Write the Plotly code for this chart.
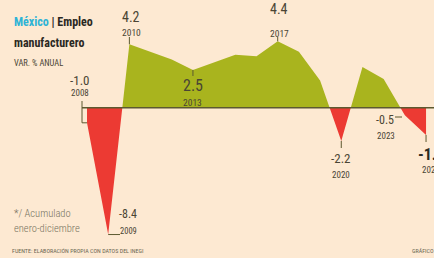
import plotly.graph_objects as go

# ---- data ----
years = list(range(2008, 2025))
values = [-1.0, -8.4, 4.2, 3.7, 3.2, 2.5, 3.0, 3.5, 3.4, 4.4, 3.7, 1.8, -2.2, 2.7, 1.9, -0.5, -1.8]

title_country = "México"
title_rest = "| Empleo"
title_line2 = "manufacturero"
subtitle = "VAR. % ANUAL"
note1 = "*/ Acumulado"
note2 = "enero-diciembre"
source = "FUENTE: ELABORACIÓN PROPIA CON DATOS DEL INEGI"
credit = "GRÁFICO EE"

W, H = 434, 258
BG = "#fde9d2"
GREEN = "#a9b41e"
RED = "#ec3a33"
INK = "#4a4534"
LINE = "#5c5930"

NARROW = "Roboto Condensed, Roboto, sans-serif"

# ---- split series at zero crossings so each sign gets its own fill ----
def split_sign(xs, ys):
    px, py = [xs[0]], [ys[0]]
    for i in range(len(xs) - 1):
        x0, y0, x1, y1 = xs[i], ys[i], xs[i + 1], ys[i + 1]
        if y0 * y1 < 0:
            t = y0 / (y0 - y1)
            px.append(x0 + t * (x1 - x0))
            py.append(0.0)
        px.append(x1)
        py.append(y1)
    return px, py

sx, sy = split_sign(years, values)
pos = [max(v, 0) for v in sy]
neg = [min(v, 0) for v in sy]

fig = go.Figure()
fig.add_trace(go.Scatter(x=sx, y=pos, mode="lines", line=dict(width=0),
                         fill="tozeroy", fillcolor=GREEN, hoverinfo="skip"))
fig.add_trace(go.Scatter(x=sx, y=neg, mode="lines", line=dict(width=0),
                         fill="tozeroy", fillcolor=RED, hoverinfo="skip"))

# axis mapping (pixels -> data)
X0 = 87.0          # pixel of first year
DX = 21.19         # pixels per year
Y0 = 107.7         # pixel of zero line
DY = 15.1          # pixels per unit
xr = [years[0] - X0 / DX, years[0] + (W - X0) / DX]
yr = [-(H - Y0) / DY, Y0 / DY]

def xpx(p):
    return years[0] + (p - X0) / DX

def ypx(p):
    return (Y0 - p) / DY

# zero line
fig.add_shape(type="line", xref="x", yref="y", x0=xpx(82), x1=xr[1], y0=0, y1=0,
              line=dict(color=LINE, width=1.5))

val = dict(zip(years, values))

def leader(x0, y0, x1, y1):
    fig.add_shape(type="line", xref="x", yref="y", x0=x0, y0=y0, x1=x1, y1=y1,
                  line=dict(color=LINE, width=1))

def txt(x, ypix, text, size, bold=False, color=INK, anchor="center", weight=None):
    f = dict(family=NARROW, size=size, color=color)
    if weight:
        f["weight"] = weight
    fig.add_annotation(x=x, y=ypx(ypix), xref="x", yref="y",
                       text=f"<b>{text}</b>" if bold else text,
                       showarrow=False, xanchor=anchor, yanchor="middle", font=f)

# 2008 label with L leader
leader(xpx(82), ypx(101), xpx(82), val[2008])
leader(xpx(82), val[2008], 2008, val[2008])
txt(xpx(80), 80, f"{val[2008]:.1f}", 13)
txt(xpx(80), 93, "2008", 9)

# 2009
leader(2009, val[2009], xpx(120), val[2009])
txt(xpx(128), 214, f"{val[2009]:.1f}", 12)
txt(xpx(128), 231, "2009", 8.5)

# 2010
leader(2010, ypx(37), 2010, val[2010])
txt(xpx(131), 17, f"{val[2010]:.1f}", 14)
txt(xpx(131), 32, "2010", 9.5)

# 2013
leader(2013, val[2013], 2013, ypx(76))
txt(2013, 85, f"{val[2013]:.1f}", 16)
txt(2013, 102, "2013", 9.5)

# 2017
leader(2017, ypx(37), 2017, val[2017])
txt(xpx(279), 9, f"{val[2017]:.1f}", 14)
txt(xpx(279), 33, "2017", 9.5)

# 2020
leader(2020, val[2020], 2020, ypx(148))
txt(2020, 158, f"{val[2020]:.1f}", 13)
txt(2020, 175, "2020", 9)

# 2023
leader(xpx(395), ypx(117), xpx(402), ypx(117))
txt(xpx(385), 120, f"{val[2023]:.1f}", 12)
txt(xpx(386), 136, "2023", 9)

# 2024
leader(2024, val[2024], 2024, ypx(142))
txt(xpx(416), 154, f"{val[2024]:.1f}", 16, bold=True, color="#2b2a22", anchor="left")
txt(xpx(420), 170, "2024", 9, anchor="left")

# title block
fig.add_annotation(x=12 / W, y=1 - 22 / H, xref="paper", yref="paper", showarrow=False,
                   xanchor="left", yanchor="middle",
                   text=f"<b><span style='color:#2db3d6'>{title_country}</span> {title_rest}</b>",
                   font=dict(family=NARROW, size=12, color="#2a2822"))
fig.add_annotation(x=12 / W, y=1 - 43 / H, xref="paper", yref="paper", showarrow=False,
                   xanchor="left", yanchor="middle", text=f"<b>{title_line2}</b>",
                   font=dict(family=NARROW, size=12, color="#2a2822"))
fig.add_annotation(x=12 / W, y=1 - 63 / H, xref="paper", yref="paper", showarrow=False,
                   xanchor="left", yanchor="middle", text=subtitle,
                   font=dict(family=NARROW, size=8.5, color=INK))

# notes
for t, py in [(note1, 213), (note2, 228)]:
    fig.add_annotation(x=12 / W, y=1 - py / H, xref="paper", yref="paper", showarrow=False,
                       xanchor="left", yanchor="middle", text=t,
                       font=dict(family=NARROW, size=10.5, color="#77735f", weight=300))
fig.add_annotation(x=10 / W, y=1 - 250 / H, xref="paper", yref="paper", showarrow=False,
                   xanchor="left", yanchor="middle", text=source,
                   font=dict(family=NARROW, size=6, color="#6b6753"))
fig.add_annotation(x=410 / W, y=1 - 250 / H, xref="paper", yref="paper", showarrow=False,
                   xanchor="left", yanchor="middle", text=credit,
                   font=dict(family=NARROW, size=6, color="#6b6753"))

fig.update_layout(
    width=W, height=H,
    margin=dict(l=0, r=0, t=0, b=0),
    paper_bgcolor=BG, plot_bgcolor=BG,
    showlegend=False,
    xaxis=dict(range=xr, visible=False, fixedrange=True),
    yaxis=dict(range=yr, visible=False, fixedrange=True),
)

fig.write_html("out.html", config={"displayModeBar": False},
               post_script="document.body.style.margin='0';document.body.style.background='%s';" % BG)
